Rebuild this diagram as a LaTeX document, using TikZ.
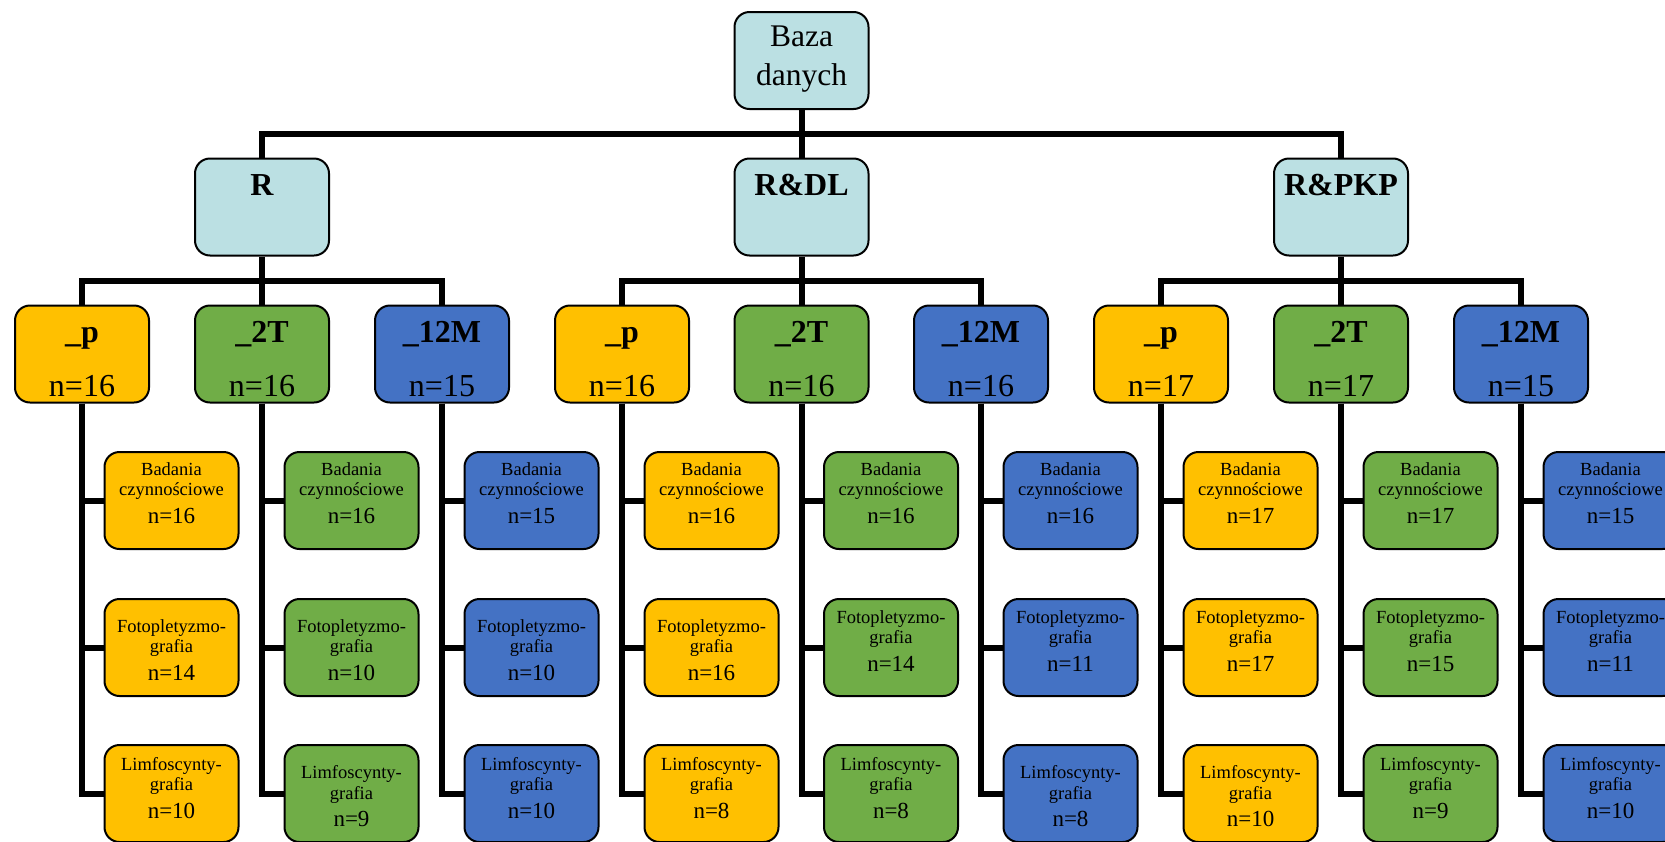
\documentclass[tikz,border=0pt]{standalone}
\usepackage{fontspec}
\setmainfont{Liberation Serif}
\definecolor{lblue}{RGB}{187,224,227}
\definecolor{cyel}{RGB}{255,192,0}
\definecolor{cgrn}{RGB}{112,173,71}
\definecolor{cblu}{RGB}{68,114,196}
\newcommand\ltxt[4]{\raisebox{#4pt}[0pt][0pt]{\parbox[t]{130pt}{\centering\fontsize{18.5}{20.5}\selectfont #1\par #2\par\fontsize{23}{27.5}\selectfont n=#3\par}}}
\newcommand\mtxt[3]{\raisebox{#3pt}[0pt][0pt]{\parbox[t]{130pt}{\centering\fontsize{32}{36}\selectfont\textbf{#1}\par\fontsize{32}{54}\selectfont n=#2\par}}}
\begin{document}
\begin{tikzpicture}[x=1pt,y=-1pt,
  box/.style={draw=black,line width=2pt,rounded corners=15pt,inner sep=0pt,minimum width=134pt,minimum height=97pt},
  conn/.style={line width=6pt}]
\useasboundingbox (0,0) rectangle (1665,841);
\clip (0,0) rectangle (1665,841);
\node[box,fill=lblue] (baza) at (801.5,60.5) {\raisebox{14.5pt}[0pt][0pt]{\parbox[t]{130pt}{\centering\fontsize{31.5}{39}\selectfont Baza\par danych\par}}};
\node[box,fill=lblue] (r1) at (262,207) {\raisebox{12pt}[0pt][0pt]{\fontsize{32}{36}\selectfont\bfseries R}};
\node[box,fill=lblue] (r2) at (801.5,207) {\raisebox{12pt}[0pt][0pt]{\fontsize{32}{36}\selectfont\bfseries R\&DL}};
\node[box,fill=lblue] (r3) at (1341,207) {\raisebox{12pt}[0pt][0pt]{\fontsize{32}{36}\selectfont\bfseries R\&PKP}};
\coordinate (top) at (801.5,133.5);
\draw[conn] (r1.north) |- (top) -| (r3.north);
\draw[conn] (baza.south) -- (r2.north);
\foreach \ii/\xx/\cc/\lb/\nn/\na/\nb/\nc/\db/\dc in {
1/82/cyel/\_p/16/16/14/10/15.5/23.5,
2/262/cgrn/\_2T/16/16/10/9/15.5/15,
3/442/cblu/\_12M/15/15/10/10/15.5/23.5,
4/622/cyel/\_p/16/16/16/8/15.5/23.5,
5/801.5/cgrn/\_2T/16/16/14/8/24.5/23.5,
6/981/cblu/\_12M/16/16/11/8/24.5/15,
7/1161/cyel/\_p/17/17/17/10/24.5/15,
8/1341/cgrn/\_2T/17/17/15/9/24.5/23.5,
9/1521/cblu/\_12M/15/15/11/10/24.5/23.5}{
  \node[box,fill=\cc] (a\ii) at (\xx,354) {\mtxt{\lb}{\nn}{12}};
  \node[box,fill=\cc] (b\ii) at (\xx+89.5,500.5) {\ltxt{Badania}{czynnościowe}{\na}{25.5}};
  \node[box,fill=\cc] (c\ii) at (\xx+89.5,647.5) {\ltxt{Fotopletyzmo-}{grafia}{\nb}{\db}};
  \node[box,fill=\cc] (d\ii) at (\xx+89.5,793.5) {\ltxt{Limfoscynty-}{grafia}{\nc}{\dc}};
  \draw[conn] (a\ii.south) |- (b\ii.west);
  \draw[conn] (a\ii.south) |- (c\ii.west);
  \draw[conn] (a\ii.south) |- (d\ii.west);
}
\foreach \k/\xx in {1/262,2/801.5,3/1341}{
  \coordinate (m\k) at (\xx,280.5);
}
\draw[conn] (a1.north) |- (m1) -| (a3.north);
\draw[conn] (r1.south) -- (a2.north);
\draw[conn] (a4.north) |- (m2) -| (a6.north);
\draw[conn] (r2.south) -- (a5.north);
\draw[conn] (a7.north) |- (m3) -| (a9.north);
\draw[conn] (r3.south) -- (a8.north);
\end{tikzpicture}
\end{document}
